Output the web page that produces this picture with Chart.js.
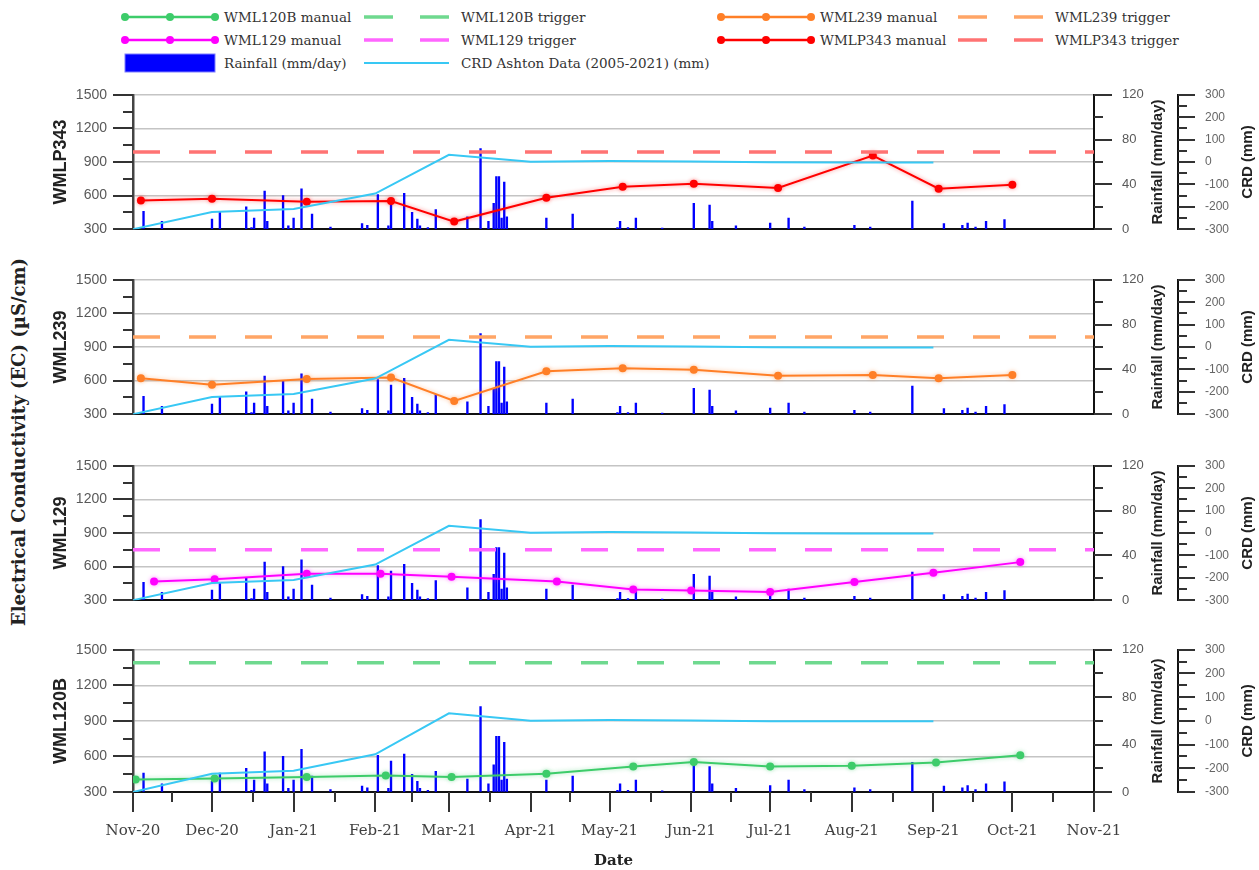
<!DOCTYPE html>
<html>
<head>
<meta charset="utf-8">
<script src="https://cdn.jsdelivr.net/npm/chart.js@4"></script>
<style>
  body { margin: 0; background: #fff; width: 1259px; height: 870px; overflow: hidden; position: relative; }
  canvas.panel { position: absolute; left: 0; }
  #legend { position: absolute; left: 0; top: 0; }
  #ecTitle {
    position: absolute; left: 18px; top: 442px; white-space: nowrap;
    transform: translate(-50%, -50%) rotate(-90deg);
    font: bold 18px "DejaVu Serif", serif; color: #222;
  }
</style>
</head>
<body>
<svg id="legend" width="1259" height="80"></svg>
<div id="ecTitle">Electrical Conductivity (EC) (µS/cm)</div>

<script>
// x axis ticks (month starts)
const monthStarts = ["2020-11-01", "2020-12-01", "2021-01-01", "2021-02-01", "2021-03-01", "2021-04-01",
  "2021-05-01", "2021-06-01", "2021-07-01", "2021-08-01", "2021-09-01", "2021-10-01", "2021-11-01"];
const monthLabels = ["Nov-20", "Dec-20", "Jan-21", "Feb-21", "Mar-21", "Apr-21",
  "May-21", "Jun-21", "Jul-21", "Aug-21", "Sep-21", "Oct-21", "Nov-21"];

// daily rainfall (mm/day)
const rainDates = ["2020-11-05", "2020-11-12", "2020-12-01", "2020-12-04", "2020-12-14", "2020-12-16", "2020-12-17",
  "2020-12-21", "2020-12-22", "2020-12-28", "2020-12-30", "2021-01-01", "2021-01-04", "2021-01-08", "2021-01-15",
  "2021-01-27", "2021-01-29", "2021-02-02", "2021-02-06", "2021-02-07", "2021-02-12", "2021-02-15", "2021-02-17",
  "2021-02-18", "2021-02-21", "2021-02-24", "2021-03-08", "2021-03-13", "2021-03-16", "2021-03-18", "2021-03-19",
  "2021-03-20", "2021-03-21", "2021-03-22", "2021-03-23", "2021-04-07", "2021-04-17", "2021-05-04", "2021-05-05",
  "2021-05-08", "2021-05-11", "2021-05-21", "2021-06-02", "2021-06-08", "2021-06-09", "2021-06-18", "2021-07-01",
  "2021-07-08", "2021-07-14", "2021-08-02", "2021-08-08", "2021-08-24", "2021-09-05", "2021-09-12", "2021-09-14",
  "2021-09-17", "2021-09-21", "2021-09-28"];
const rainMm = [16, 7, 9, 16, 20, 1.5, 10,
  34, 7, 30, 3, 10, 36, 13.5, 2,
  5, 3.5, 31, 3, 26, 32, 15, 9,
  3, 1.5, 17.5, 11, 72, 7, 23, 47,
  47, 10, 42, 11, 10, 13.5, 1.5, 7,
  1.5, 10, 1, 23, 21.5, 7, 3, 5.5,
  10, 2, 3.5, 2, 25, 5, 3.5, 5.5,
  2, 7, 8.5];

// CRD Ashton data (mm), monthly
const crdDates = ["2020-11-01", "2020-12-01", "2021-01-01", "2021-02-01", "2021-03-01", "2021-04-01",
  "2021-05-01", "2021-06-01", "2021-07-01", "2021-08-01", "2021-09-01"];
const crdMm = [-300, -223, -210, -141, 32, 1, 4, 2, -1, -2, -2];

// EC manual readings (µS/cm)
const p343Dates = ["2020-11-04", "2020-12-01", "2021-01-06", "2021-02-07", "2021-03-03", "2021-04-07",
  "2021-05-06", "2021-06-02", "2021-07-04", "2021-08-09", "2021-09-03", "2021-10-01"];
const p343EC = [557, 572, 545, 552, 368, 580, 680, 705, 668, 958, 662, 697];
const p343Trigger = 990;

const w239Dates = p343Dates;
const w239EC = [621, 562, 614, 627, 418, 684, 710, 697, 643, 649, 621, 651];
const w239Trigger = 990;

const w129Dates = ["2020-11-09", "2020-12-02", "2021-01-06", "2021-02-03", "2021-03-02", "2021-04-11",
  "2021-05-10", "2021-06-01", "2021-07-01", "2021-08-02", "2021-09-01", "2021-10-04"];
const w129EC = [468, 488, 537, 537, 509, 468, 395, 387, 373, 463, 545, 640];
const w129Trigger = 750;

const w120Dates = ["2020-11-02", "2020-12-02", "2021-01-06", "2021-02-05", "2021-03-02", "2021-04-07",
  "2021-05-10", "2021-06-02", "2021-07-01", "2021-08-01", "2021-09-02", "2021-10-04"];
const w120EC = [405, 413, 427, 440, 427, 454, 516, 554, 516, 521, 548, 611];
const w120Trigger = 1390;

const day = s => (Date.parse(s) - Date.parse(monthStarts[0])) / 86400000;
const xMin = day(monthStarts[0]);
const xMax = day(monthStarts[monthStarts.length - 1]);

const panels = [
  { name: "WMLP343", dates: p343Dates, ec: p343EC, trigger: p343Trigger, color: "#ff0000", halo: "rgba(255,0,0,0.45)", trig: "#ff7373" },
  { name: "WML239", dates: w239Dates, ec: w239EC, trigger: w239Trigger, color: "#ff7f27", halo: "rgba(255,127,39,0.45)", trig: "#ffa566" },
  { name: "WML129", dates: w129Dates, ec: w129EC, trigger: w129Trigger, color: "#ff00ff", halo: "rgba(255,0,255,0.45)", trig: "#ff66ff" },
  { name: "WML120B", dates: w120Dates, ec: w120EC, trigger: w120Trigger, color: "#3dcc6a", halo: "rgba(61,204,106,0.45)", trig: "#6fd98f" }
];
const crdColor = "#38c8f4";
const rainColor = "#0000ff";

const plotTops = [89, 274, 460, 644];
const PLOT_H = 148, PAD_TOP = 12;

// ticks (major + minor), right axis titles, soft glow on the manual line
function tickPlugin(showX, halo) {
  return {
    id: "tickMarks",
    beforeDatasetDraw(chart, args) {
      if (args.index === 1) {
        chart.ctx.shadowColor = halo;
        chart.ctx.shadowBlur = 4;
      }
    },
    afterDatasetDraw(chart, args) {
      if (args.index === 1) {
        chart.ctx.shadowColor = "rgba(0,0,0,0)";
        chart.ctx.shadowBlur = 0;
      }
    },
    afterDraw(chart) {
      const ctx = chart.ctx;
      const s = chart.scales;
      ctx.save();
      ctx.strokeStyle = "#333";
      ctx.lineWidth = 2;
      const line = (x1, y1, x2, y2) => { ctx.beginPath(); ctx.moveTo(x1, y1); ctx.lineTo(x2, y2); ctx.stroke(); };
      const vAxis = (sc, step, major, lenMaj, lenMin, dir, edge) => {
        for (let v = sc.min; v <= sc.max + 1e-6; v += step) {
          const y = Math.round(sc.getPixelForValue(v));
          const len = Math.abs(v % major) < 1e-6 ? lenMaj : lenMin;
          line(edge, y, edge + dir * len, y);
        }
      };
      vAxis(s.y, 150, 300, 20, 10, -1, s.y.right);
      vAxis(s.yR, 20, 40, 18, 9, 1, s.yR.left);
      vAxis(s.yC, 50, 100, 17, 9, 1, s.yC.left);
      if (showX) {
        const xs = monthStarts.map(day);
        xs.forEach((v, i) => {
          const x = Math.round(s.x.getPixelForValue(v));
          line(x, s.x.top, x, s.x.top + 20);
          if (i < xs.length - 1) {
            const xm = Math.round((x + s.x.getPixelForValue(xs[i + 1])) / 2);
            line(xm, s.x.top, xm, s.x.top + 10);
          }
        });
      }
      ctx.fillStyle = "#222";
      ctx.font = 'bold 15px "Liberation Sans"';
      ctx.textAlign = "center";
      ctx.textBaseline = "middle";
      const cy = (chart.chartArea.top + chart.chartArea.bottom) / 2;
      [[s.yR.left + 64, "Rainfall (mm/day)"], [s.yC.left + 70, "CRD (mm)"]].forEach(([x, t]) => {
        ctx.save();
        ctx.translate(x, cy);
        ctx.rotate(-Math.PI / 2);
        ctx.fillText(t, 0, 0);
        ctx.restore();
      });
      ctx.restore();
    }
  };
}

panels.forEach((p, i) => {
  const isLast = i === panels.length - 1;
  const xh = isLast ? 78 : 10;
  const canvas = document.createElement("canvas");
  canvas.className = "panel";
  canvas.width = 1259;
  canvas.height = PAD_TOP + PLOT_H + xh;
  canvas.style.top = (plotTops[i] - PAD_TOP) + "px";
  canvas.style.width = "1259px";
  canvas.style.height = canvas.height + "px";
  document.body.appendChild(canvas);

  new Chart(canvas, {
    type: "bar",
    data: {
      datasets: [
        {
          type: "bar", label: "Rainfall (mm/day)",
          data: rainDates.map((d, k) => ({ x: day(d), y: rainMm[k] })),
          yAxisID: "yR", backgroundColor: rainColor, borderWidth: 0, barThickness: 1.7, order: 3
        },
        {
          type: "line", label: p.name + " manual",
          data: p.dates.map((d, k) => ({ x: day(d), y: p.ec[k] })),
          yAxisID: "y", borderColor: p.color, backgroundColor: p.color, borderWidth: 2,
          pointRadius: 4, pointHoverRadius: 4, pointBorderWidth: 0, tension: 0, order: 2
        },
        {
          type: "line", label: "CRD Ashton Data (2005-2021) (mm)",
          data: crdDates.map((d, k) => ({ x: day(d), y: crdMm[k] })),
          yAxisID: "yC", borderColor: crdColor, borderWidth: 2, pointRadius: 0, tension: 0, order: 1
        },
        {
          type: "line", label: p.name + " trigger",
          data: [{ x: xMin, y: p.trigger }, { x: xMax, y: p.trigger }],
          yAxisID: "y", borderColor: p.trig, borderWidth: 3.5, borderDash: [27, 29],
          pointRadius: 0, order: 0
        }
      ]
    },
    options: {
      responsive: false,
      animation: false,
      layout: { padding: { left: 50, right: 0, top: PAD_TOP, bottom: 0 } },
      plugins: { legend: { display: false }, tooltip: { enabled: false } },
      scales: {
        x: {
          type: "linear", min: xMin, max: xMax, offset: false,
          afterBuildTicks: sc => { sc.ticks = monthStarts.map(d => ({ value: day(d) })); },
          ticks: {
            display: isLast, autoSkip: false, maxRotation: 0, padding: 10,
            font: { family: "DejaVu Serif", size: 15 }, color: "#404040",
            callback: (v, k) => monthLabels[k]
          },
          grid: { display: isLast, drawOnChartArea: false, tickLength: 20, tickColor: "rgba(0,0,0,0)", offset: false },
          border: { display: true, color: "#111", width: 2 },
          title: {
            display: isLast, text: "Date", color: "#222", padding: { top: 0, bottom: 0 },
            font: { family: "DejaVu Serif", size: 15, weight: "bold" }
          },
          afterFit: sc => { sc.height = xh; }
        },
        y: {
          position: "left", min: 300, max: 1500,
          ticks: {
            stepSize: 150, autoSkip: false, padding: 6,
            font: { family: "Liberation Sans", size: 14 }, color: "#595959",
            callback: v => (v % 300 === 0 ? v : "")
          },
          grid: {
            color: c => (c.tick && c.tick.value > 300 && c.tick.value % 300 === 0) ? "#c4c4c4" : "rgba(0,0,0,0)",
            lineWidth: 1.5, tickLength: 20, tickColor: "rgba(0,0,0,0)"
          },
          border: { display: true, color: "#444", width: 2.5 },
          title: {
            display: true, text: p.name, color: "#222", padding: { top: 0, bottom: 0 },
            font: { family: "Liberation Sans", size: 18, weight: "bold" }
          },
          afterFit: sc => { sc.width = 83; }
        },
        yR: {
          position: "right", min: 0, max: 120, weight: 0,
          ticks: {
            stepSize: 20, autoSkip: false, padding: 10,
            font: { family: "Liberation Sans", size: 13 }, color: "#595959",
            callback: v => (v % 40 === 0 ? v : "")
          },
          grid: { drawOnChartArea: false, tickLength: 18, tickColor: "rgba(0,0,0,0)" },
          border: { display: true, color: "#111", width: 2 },
          afterFit: sc => { sc.width = 84; }
        },
        yC: {
          position: "right", min: -300, max: 300, weight: 1,
          ticks: {
            stepSize: 50, autoSkip: false, padding: 10,
            font: { family: "Liberation Sans", size: 12 }, color: "#666",
            callback: v => (v % 100 === 0 ? v : "")
          },
          grid: { drawOnChartArea: false, tickLength: 17, tickColor: "rgba(0,0,0,0)" },
          border: { display: true, color: "#111", width: 2 },
          afterFit: sc => { sc.width = 81; }
        }
      }
    },
    plugins: [tickPlugin(isLast, p.halo)]
  });
});

// legend
const legendItems = [
  { label: "WML120B manual", kind: "marker", color: panels[3].color, x: 125, y: 17 },
  { label: "WML120B trigger", kind: "dash", color: panels[3].trig, x: 364, y: 17 },
  { label: "WML239 manual", kind: "marker", color: panels[1].color, x: 721, y: 17 },
  { label: "WML239 trigger", kind: "dash", color: panels[1].trig, x: 958, y: 17 },
  { label: "WML129 manual", kind: "marker", color: panels[2].color, x: 125, y: 40 },
  { label: "WML129 trigger", kind: "dash", color: panels[2].trig, x: 364, y: 40 },
  { label: "WMLP343 manual", kind: "marker", color: panels[0].color, x: 721, y: 40 },
  { label: "WMLP343 trigger", kind: "dash", color: panels[0].trig, x: 958, y: 40 },
  { label: "Rainfall (mm/day)", kind: "box", color: rainColor, x: 125, y: 63 },
  { label: "CRD Ashton Data (2005-2021) (mm)", kind: "line", color: crdColor, x: 364, y: 63 }
];
const svg = document.getElementById("legend");
const NS = "http://www.w3.org/2000/svg";
function add(tag, attrs) {
  const e = document.createElementNS(NS, tag);
  for (const k in attrs) e.setAttribute(k, attrs[k]);
  svg.appendChild(e);
  return e;
}
legendItems.forEach(it => {
  let tx;
  if (it.kind === "marker") {
    add("line", { x1: it.x, y1: it.y, x2: it.x + 90, y2: it.y, stroke: it.color, "stroke-width": 2.5 });
    [0, 45, 90].forEach(dx => add("circle", { cx: it.x + dx, cy: it.y, r: 4, fill: it.color }));
    tx = it.x + 99;
  } else if (it.kind === "dash") {
    add("line", { x1: it.x, y1: it.y, x2: it.x + 29, y2: it.y, stroke: it.color, "stroke-width": 3.5 });
    add("line", { x1: it.x + 56, y1: it.y, x2: it.x + 85, y2: it.y, stroke: it.color, "stroke-width": 3.5 });
    tx = it.x + 97;
  } else if (it.kind === "box") {
    add("rect", { x: it.x, y: it.y - 9, width: 90, height: 18, fill: it.color, stroke: "#7f7fff", "stroke-width": 1 });
    tx = it.x + 99;
  } else {
    add("line", { x1: it.x, y1: it.y, x2: it.x + 85, y2: it.y, stroke: it.color, "stroke-width": 2 });
    tx = it.x + 97;
  }
  const t = add("text", {
    x: tx, y: it.y, "dominant-baseline": "central", fill: "#333",
    "font-family": "DejaVu Serif", "font-size": "13.5px"
  });
  t.textContent = it.label;
});
</script>
</body>
</html>
